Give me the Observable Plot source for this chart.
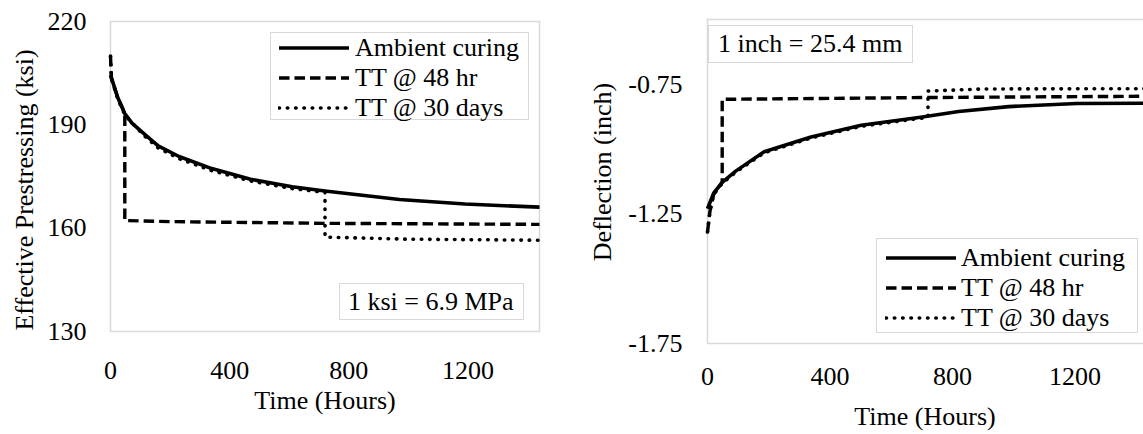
<!DOCTYPE html>
<html><head><meta charset="utf-8">
<script src="https://cdn.jsdelivr.net/npm/d3@7"></script>
<script src="https://cdn.jsdelivr.net/npm/@observablehq/plot@0.6"></script>
<style>
html,body{margin:0;padding:0;background:#fff;overflow:hidden;}
#wrap{position:relative;width:1143px;height:434px;overflow:hidden;font-family:'Liberation Serif','Times New Roman',serif;font-size:26px;color:#000;background:#fff;}
#wrap svg.plot{position:absolute;top:0;overflow:visible;}
.box{position:absolute;border:1.5px solid #d9d9d9;background:#fff;box-sizing:border-box;}
.row{position:absolute;left:0;height:30px;display:flex;align-items:center;white-space:nowrap;line-height:1;}
.row svg{position:absolute;top:10px;}
.row span{position:absolute;white-space:nowrap;}
.title{position:absolute;white-space:nowrap;line-height:1;transform:translate(-50%,-50%);}
.ytitle{transform:translate(-50%,-50%) rotate(-90deg);}
</style>
</head><body>
<div id="wrap"></div>
<script>
// ---------- data ----------
const seriesNames = ["Ambient curing", "TT @ 48 hr", "TT @ 30 days"];
const xTicks = [0, 400, 800, 1200];
const leftYTicks = [130, 160, 190, 220];
const rightYTicks = [-1.75, -1.25, -0.75];

// Left panel: effective prestressing (ksi)
const ambHoursL = [0, 24, 48, 72, 110, 160, 230, 340, 470, 610, 720, 830, 970, 1190, 1440];
const ambValsL  = [204.5, 198, 193.3, 190.5, 187.6, 183.9, 180.8, 177.3, 174.2, 172, 170.8, 169.7, 168.3, 167, 166.1];
const tt48HoursL = [0, 3, 24, 48, 48, 200, 720, 1440];
const tt48ValsL  = [210, 203.5, 198, 193.3, 162.2, 161.9, 161.4, 161.1];
const tt30HoursL = [0, 3, 24, 48, 110, 160, 230, 340, 470, 610, 720, 720, 1000, 1440];
const tt30ValsL  = [210, 203.5, 197.6, 192.9, 187.1, 183.3, 180.2, 176.7, 173.7, 171.5, 170.4, 157.4, 156.8, 156.5];

// Right panel: deflection (inch)
const ambHoursR = [0, 20, 48, 92, 185, 338, 502, 696, 820, 983, 1206, 1440];
const ambValsR  = [-1.23, -1.17, -1.128, -1.085, -1.01, -0.953, -0.908, -0.877, -0.855, -0.836, -0.824, -0.823];
const tt48HoursR = [0, 8, 20, 48, 48, 720, 1440];
const tt48ValsR  = [-1.32, -1.24, -1.175, -1.128, -0.808, -0.801, -0.796];
const tt30HoursR = [0, 8, 20, 48, 92, 185, 338, 502, 696, 720, 720, 900, 1440];
const tt30ValsR  = [-1.32, -1.24, -1.175, -1.132, -1.089, -1.014, -0.957, -0.912, -0.881, -0.878, -0.776, -0.768, -0.767];

// ---------- styles ----------
const FONT = "'Liberation Serif','Times New Roman',serif";
const styles = [
  {strokeWidth: 3.6, strokeDasharray: null, strokeLinecap: "butt"},
  {strokeWidth: 3.4, strokeDasharray: "10.5,5", strokeLinecap: "butt"},
  {strokeWidth: 3.6, strokeDasharray: "0.5,7.8", strokeLinecap: "round"}
];
const toRows = (h, v) => h.map((x, i) => ({h: x, v: v[i]}));

function lineMarks(sets) {
  return sets.map((d, i) => Plot.line(d, {
    x: "h", y: "v", stroke: "black",
    strokeWidth: styles[i].strokeWidth,
    strokeDasharray: styles[i].strokeDasharray || undefined,
    strokeLinecap: styles[i].strokeLinecap,
    strokeLinejoin: "round"
  }));
}

const wrap = document.getElementById("wrap");

// Left plot
const left = Plot.plot({
  width: 560, height: 434,
  marginLeft: 110, marginRight: 21, marginTop: 21, marginBottom: 103,
  style: {fontFamily: FONT, fontSize: "26px", color: "black", background: "transparent"},
  x: {domain: [0, 1440]},
  y: {domain: [130, 220]},
  marks: [
    Plot.frame({stroke: "#d9d9d9", strokeWidth: 1.5}),
    ...lineMarks([toRows(ambHoursL, ambValsL), toRows(tt48HoursL, tt48ValsL), toRows(tt30HoursL, tt30ValsL)]),
    Plot.axisX({ticks: xTicks, tickSize: 0, tickPadding: 29, label: null, fontSize: 26, tickFormat: d => String(d)}),
    Plot.axisY({ticks: leftYTicks, tickSize: 0, tickPadding: 24, label: null, fontSize: 26, tickFormat: d => String(d)})
  ]
});
left.classList.add("plot");
left.style.left = "0px";
wrap.appendChild(left);

// Right plot
const right = Plot.plot({
  width: 588, height: 434,
  marginLeft: 127, marginRight: 20, marginTop: 19, marginBottom: 91,
  style: {fontFamily: FONT, fontSize: "26px", color: "black", background: "transparent"},
  x: {domain: [0, 1440]},
  y: {domain: [-1.75, -0.5]},
  marks: [
    Plot.frame({stroke: "#d9d9d9", strokeWidth: 1.5}),
    ...lineMarks([toRows(ambHoursR, ambValsR), toRows(tt48HoursR, tt48ValsR), toRows(tt30HoursR, tt30ValsR)]),
    Plot.axisX({ticks: xTicks, tickSize: 0, tickPadding: 23, label: null, fontSize: 26, tickFormat: d => String(d)}),
    Plot.axisY({ticks: rightYTicks, tickSize: 0, tickPadding: 25, label: null, fontSize: 26, tickFormat: d => d.toFixed(2)})
  ]
});
right.classList.add("plot");
right.style.left = "580px";
wrap.appendChild(right);

// ---------- titles ----------
function addTitle(text, x, y, rotate) {
  const d = document.createElement("div");
  d.className = "title" + (rotate ? " ytitle" : "");
  d.textContent = text;
  d.style.left = x + "px"; d.style.top = y + "px";
  wrap.appendChild(d);
}
addTitle("Effective Prestressing (ksi)", 25, 190, true);
addTitle("Time (Hours)", 325, 401, false);
addTitle("Deflection (inch)", 603, 172, true);
addTitle("Time (Hours)", 925, 417, false);

// ---------- legends ----------
function addLegend(x, y, w, h, rowTop, sampleX, textX) {
  const box = document.createElement("div");
  box.className = "box";
  Object.assign(box.style, {left: x + "px", top: y + "px", width: w + "px", height: h + "px"});
  seriesNames.forEach((name, i) => {
    const row = document.createElement("div");
    row.className = "row";
    row.style.top = (rowTop + i * 30) + "px";
    row.style.width = (w - 3) + "px";
    const s = styles[i];
    row.innerHTML = `<svg width="72" height="10" style="left:${sampleX}px"><line x1="1" y1="5" x2="71" y2="5" stroke="black" stroke-width="${s.strokeWidth}" ${s.strokeDasharray ? `stroke-dasharray="${s.strokeDasharray}"` : ""} stroke-linecap="${s.strokeLinecap}"/></svg><span style="left:${textX}px;top:2px">${name}</span>`;
    box.appendChild(row);
  });
  wrap.appendChild(box);
}
addLegend(270, 32, 259, 88, 0, 7, 84);
addLegend(876, 238, 262, 95, 4, 8, 84);

function addNote(text, x, y, w, h, pad) {
  const box = document.createElement("div");
  box.className = "box";
  Object.assign(box.style, {left: x + "px", top: y + "px", width: w + "px", height: h + "px",
    display: "flex", alignItems: "center", paddingLeft: pad + "px", whiteSpace: "nowrap", lineHeight: "1"});
  box.textContent = text;
  wrap.appendChild(box);
}
addNote("1 ksi = 6.9 MPa", 339, 283, 185, 37, 8);
addNote("1 inch = 25.4 mm", 708, 25, 205, 38, 9);
</script>
</body></html>
